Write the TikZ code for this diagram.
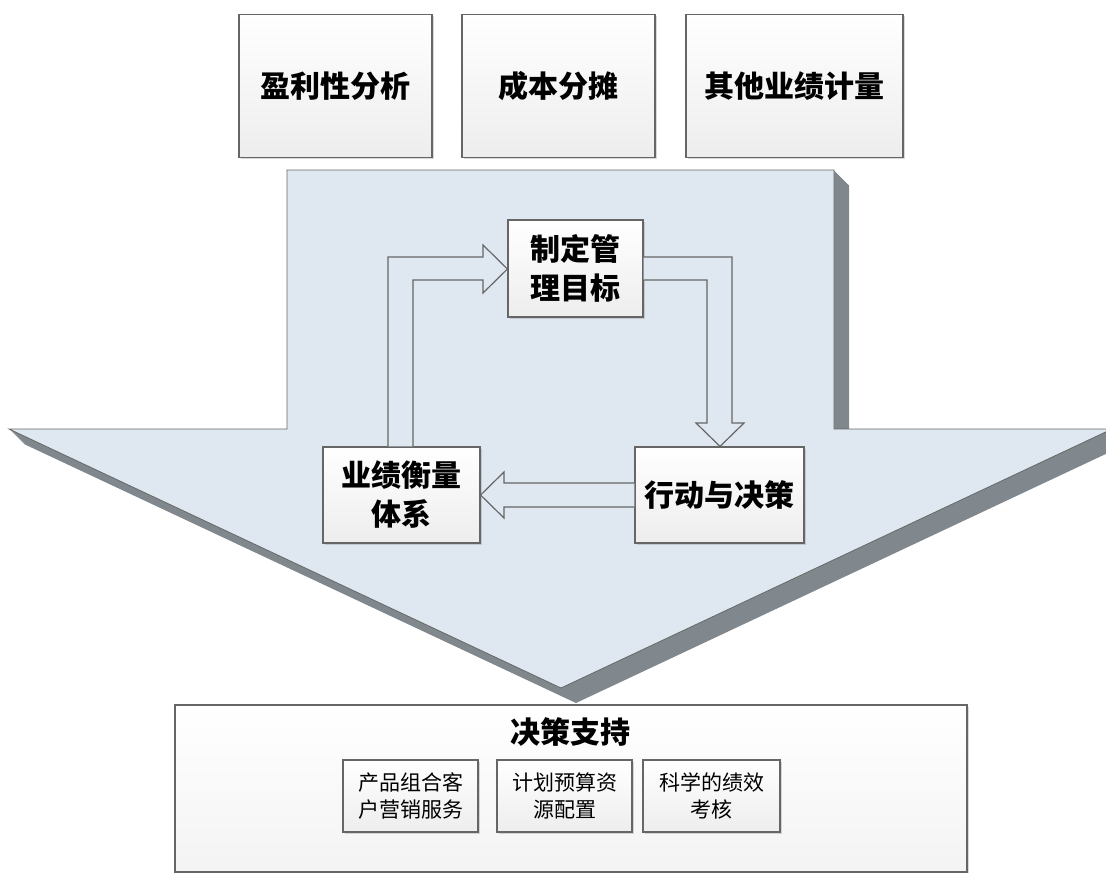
\documentclass[tikz,border=0pt]{standalone}
\usepackage{fontspec}
\setmainfont{Noto Sans CJK SC}
\usetikzlibrary{shadows}
\definecolor{arrowblue}{HTML}{DFE8F1}
\definecolor{bevelgray}{HTML}{80878D}
\definecolor{linegray}{HTML}{666666}
\tikzset{
  box/.style={draw=linegray, line width=1.2pt, top color=white, bottom color=gray!14,
    align=center, inner sep=0pt,
    drop shadow={shadow xshift=1.5pt, shadow yshift=-1.5pt, opacity=0.3}},
  bigtext/.style={font=\fontsize{30}{39}\selectfont\bfseries},
  smalltext/.style={font=\fontsize{21}{27}\selectfont},
  hollow/.style={fill=arrowblue, draw=linegray, line width=1.2pt, line join=miter},
  bigarrow/.style={insert path={(287,170) -- (834,170) -- (834,429) -- (1112,429)
    -- (561,688) -- (9,429) -- (287,429) -- cycle}}
}

\begin{document}
\begin{tikzpicture}[x=1pt, y=-1pt]
  \useasboundingbox (0,0) rectangle (1106,873);
  % Big arrow
  \foreach \d in {1,...,15}
    \fill[bevelgray, shift={(\d,\d)}, bigarrow];
  \filldraw[fill=arrowblue, draw=linegray, line width=0.8pt, bigarrow];

  % Define nodes
  \node[box, bigtext, minimum width=193, minimum height=143] (prof) at (335.5,86) {盈利性分析};
  \node[box, bigtext, minimum width=193, minimum height=143] (cost) at (558.5,86) {成本分摊};
  \node[box, bigtext, minimum width=217, minimum height=143] (other) at (794.5,86) {其他业绩计量};

  \node[box, bigtext, minimum width=135, minimum height=97] (goal) at (575.5,268.5) {制定管\\理目标};
  \node[box, bigtext, minimum width=157, minimum height=96] (perf) at (401.5,495) {业绩衡量\\体系};
  \node[box, bigtext, minimum width=169, minimum height=96] (act) at (719.5,495) {行动与决策};

  \node[box, minimum width=792, minimum height=167, bottom color=gray!9] (support) at (571,788.5) {};
  \node[bigtext] (supporttitle) at (570,732) {决策支持};
  \node[box, smalltext, minimum width=135, minimum height=72] (mix) at (410.5,796) {产品组合客\\户营销服务};
  \node[box, smalltext, minimum width=135, minimum height=72] (plan) at (564.5,796) {计划预算资\\源配置};
  \node[box, smalltext, minimum width=137, minimum height=72] (eval) at (711.5,796) {科学的绩效\\考核};

  % Connect the nodes
  \draw[hollow] (perf.north -| 388,0) -- (388,257) -- (483,257) -- (483,245)
    -- (goal.west |- 0,269) -- (483,293) -- (483,280) -- (413,280) -- (perf.north -| 413,0);
  \draw[hollow] (goal.east |- 0,257) -- (732,257) -- (732,423) -- (744,423)
    -- (act.north -| 720,0) -- (696,423) -- (707,423) -- (707,280) -- (goal.east |- 0,280);
  \draw[hollow] (act.west |- 0,483) -- (504,483) -- (504,472)
    -- (perf.east |- 0,495) -- (504,518) -- (504,507) -- (act.west |- 0,507);
\end{tikzpicture}
\end{document}
